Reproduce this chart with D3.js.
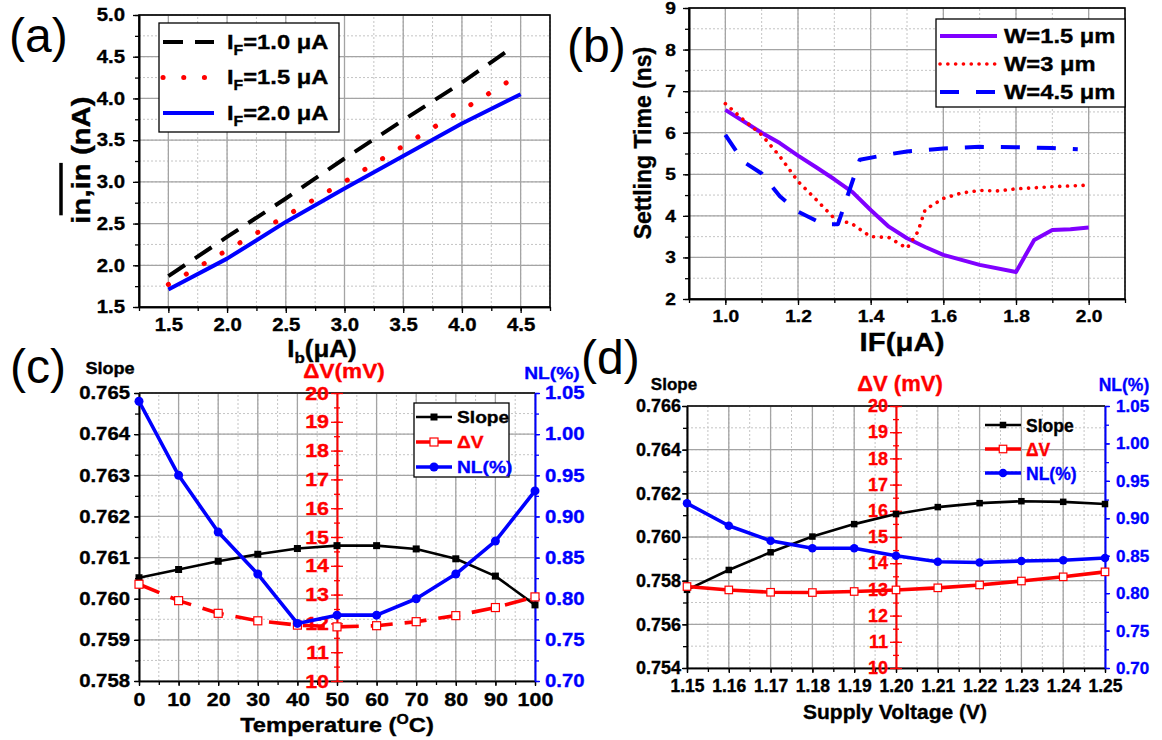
<!DOCTYPE html>
<html>
<head>
<meta charset="utf-8">
<script src="https://cdn.jsdelivr.net/npm/d3@7"></script>
<style>
body { margin: 0; background: #fff; }
.gmin { stroke: #c4c4c4; stroke-width: 1; stroke-dasharray: 2 2; }
.gmaj { stroke: #a4a4a4; stroke-width: 1.3; }
</style>
</head>
<body>
<script>
const FONT = '"Liberation Sans", Arial, Helvetica, sans-serif';
const STRETCH = 1.13; // panels a-c use lettering wider than plain Arial Bold

// (a) noise current vs Ib
const aIb = [1.5, 2.0, 2.5, 3.0, 3.5, 4.0, 4.5];
const aIbEnd = [1.5, 2.0, 2.5, 3.0, 3.5, 4.0, 4.45];
const aIF10 = [1.87, 2.34, 2.80, 3.28, 3.74, 4.19, 4.63];
const aIF15 = [1.77, 2.18, 2.59, 3.00, 3.43, 3.86, 4.25];
const aIF20 = [1.71, 2.08, 2.52, 2.92, 3.31, 3.70, 4.05];
const aXTicks = [1.5, 2.0, 2.5, 3.0, 3.5, 4.0, 4.5];
const aYTicks = [1.5, 2.0, 2.5, 3.0, 3.5, 4.0, 4.5, 5.0];

// (b) settling time vs IF
const bIF15 = [1.0, 1.1, 1.15, 1.2, 1.25, 1.3, 1.35, 1.4, 1.45, 1.5, 1.55, 1.6, 1.7, 1.8, 1.85, 1.9, 1.95, 2.0];
const bW15 = [6.55, 6.0, 5.75, 5.45, 5.17, 4.88, 4.57, 4.14, 3.74, 3.46, 3.25, 3.06, 2.82, 2.65, 3.42, 3.66, 3.68, 3.72];
const bIF3 = [1.0, 1.05, 1.1, 1.15, 1.2, 1.25, 1.3, 1.35, 1.4, 1.45, 1.5, 1.53, 1.55, 1.6, 1.65, 1.7, 1.75, 1.8, 1.9, 2.0];
const bW3 = [6.7, 6.31, 5.95, 5.43, 4.83, 4.39, 3.94, 3.8, 3.5, 3.48, 3.22, 3.62, 4.15, 4.42, 4.55, 4.61, 4.6, 4.65, 4.7, 4.74];
const bIF45 = [1.0, 1.05, 1.1, 1.15, 1.2, 1.27, 1.31, 1.37, 1.45, 1.5, 1.6, 1.7, 1.8, 1.9, 1.97];
const bW45 = [5.95, 5.3, 5.02, 4.47, 4.1, 3.8, 3.8, 5.35, 5.48, 5.55, 5.62, 5.66, 5.65, 5.63, 5.6];
const bXTicks = [1.0, 1.2, 1.4, 1.6, 1.8, 2.0];
const bYTicks = [2, 3, 4, 5, 6, 7, 8, 9];

// (c) temperature sweep
const cTemp = [0, 10, 20, 30, 40, 50, 60, 70, 80, 90, 100];
const cSlope = [0.76051, 0.76071, 0.76091, 0.76108, 0.76122, 0.76129, 0.76129, 0.76121, 0.76097, 0.76055, 0.75985];
const cDV = [13.36, 12.79, 12.35, 12.09, 11.94, 11.88, 11.92, 12.06, 12.27, 12.55, 12.92];
const cNL = [1.040, 0.950, 0.881, 0.830, 0.770, 0.780, 0.780, 0.800, 0.830, 0.870, 0.931];
const cXTicks = [0, 10, 20, 30, 40, 50, 60, 70, 80, 90, 100];
const cSlopeTicks = [0.758, 0.759, 0.760, 0.761, 0.762, 0.763, 0.764, 0.765];

// (d) supply sweep
const dVdd = [1.15, 1.16, 1.17, 1.18, 1.19, 1.20, 1.21, 1.22, 1.23, 1.24, 1.25];
const dSlope = [0.75758, 0.75849, 0.75930, 0.76002, 0.76059, 0.76105, 0.76137, 0.76155, 0.76164, 0.76161, 0.76151];
const dDV = [13.11, 12.98, 12.89, 12.88, 12.92, 12.98, 13.06, 13.17, 13.32, 13.48, 13.67];
const dNL = [0.920, 0.890, 0.870, 0.860, 0.860, 0.850, 0.842, 0.841, 0.843, 0.844, 0.847];
const dXTicks = [1.15, 1.16, 1.17, 1.18, 1.19, 1.20, 1.21, 1.22, 1.23, 1.24, 1.25];
const dSlopeTicks = [0.754, 0.756, 0.758, 0.760, 0.762, 0.764, 0.766];

const dvTicks = [10, 11, 12, 13, 14, 15, 16, 17, 18, 19, 20];
const nlTicks = [0.70, 0.75, 0.80, 0.85, 0.90, 0.95, 1.00, 1.05];

const steps = (a, b, s) => d3.range(Math.round((b - a) / s) + 1).map(i => +(a + i * s).toFixed(6));

const svg = d3.select("body").append("svg")
  .attr("width", 1162).attr("height", 740)
  .style("font-family", FONT);

function grid(g, x, y, xMaj, xMin, yMaj, yMin) {
  const [x0, x1] = x.range(), [y0, y1] = y.range();
  g.append("g").selectAll("line").data(xMin).join("line").attr("class", "gmin")
    .attr("x1", d => x(d)).attr("x2", d => x(d)).attr("y1", y0).attr("y2", y1);
  g.append("g").selectAll("line").data(yMin).join("line").attr("class", "gmin")
    .attr("y1", d => y(d)).attr("y2", d => y(d)).attr("x1", x0).attr("x2", x1);
  g.append("g").selectAll("line").data(xMaj).join("line").attr("class", "gmaj")
    .attr("x1", d => x(d)).attr("x2", d => x(d)).attr("y1", y0).attr("y2", y1);
  g.append("g").selectAll("line").data(yMaj).join("line").attr("class", "gmaj")
    .attr("y1", d => y(d)).attr("y2", d => y(d)).attr("x1", x0).attr("x2", x1);
}

function axis(g, gen, scale, major, minor, fmt, o) {
  const color = o.color || "#000";
  const m = g.append("g").attr("transform", `translate(${o.tx || 0},${o.ty || 0})`)
    .call(gen(scale).tickValues(minor).tickSize(o.mlen || 4).tickSizeOuter(0).tickFormat(""));
  const a = g.append("g").attr("transform", `translate(${o.tx || 0},${o.ty || 0})`)
    .call(gen(scale).tickValues(major).tickSize(o.len || 6).tickSizeOuter(0)
      .tickPadding(o.pad == null ? 4 : o.pad).tickFormat(fmt));
  [m, a].forEach(s => {
    s.select(".domain").attr("stroke", color).attr("stroke-width", 1.6);
    s.selectAll(".tick line").attr("stroke", color).attr("stroke-width", 1.3);
  });
  a.attr("font-family", FONT).attr("font-size", o.fs || 18).attr("font-weight", "bold")
    .selectAll("text").attr("fill", color);
  if (o.cross) {
    m.selectAll(".tick line").attr("x1", o.mlen || 4);
    a.selectAll(".tick line").attr("x1", o.len || 6);
  }
  return a;
}

function text(g, x, y, str, fs, o = {}) {
  return g.append("text").attr("x", x).attr("y", y).attr("font-size", fs)
    .attr("font-weight", o.weight || "bold").attr("fill", o.fill || "#000")
    .attr("text-anchor", o.anchor || "start").text(str);
}

function path(g, xs, ys, x, y, st) {
  return g.append("path").datum(xs.map((d, i) => [d, ys[i]]))
    .attr("fill", "none").attr("stroke", st.color).attr("stroke-width", st.w)
    .attr("stroke-dasharray", st.dash || null).attr("stroke-linecap", st.cap || "butt")
    .attr("stroke-linejoin", "round")
    .attr("d", d3.line().x(d => x(d[0])).y(d => y(d[1])));
}

function markers(g, xs, ys, x, y, kind, color, size) {
  const pts = xs.map((d, i) => [x(d), y(ys[i])]);
  if (kind === "circle") {
    g.append("g").selectAll("circle").data(pts).join("circle")
      .attr("cx", d => d[0]).attr("cy", d => d[1]).attr("r", size / 2).attr("fill", color);
  } else {
    g.append("g").selectAll("rect").data(pts).join("rect")
      .attr("x", d => d[0] - size / 2).attr("y", d => d[1] - size / 2)
      .attr("width", size).attr("height", size)
      .attr("fill", kind === "open" ? "#fff" : color)
      .attr("stroke", color).attr("stroke-width", kind === "open" ? 1.2 : 0);
  }
}

function frame(g, x, y) {
  const [x0, x1] = x.range(), [y0, y1] = y.range();
  g.append("rect").attr("x", x0).attr("y", y1).attr("width", x1 - x0).attr("height", y0 - y1)
    .attr("fill", "none").attr("stroke", "#000").attr("stroke-width", 1.6);
}

function panelLabel(x, y, s) {
  text(svg, x, y, s, 48, { weight: "normal" }).attr("class", "plabel");
}

// ================= (a) =================
{
  const g = svg.append("g").attr("class", "wide");
  const x = d3.scaleLinear().domain([1.25, 4.75]).range([139, 550]);
  const y = d3.scaleLinear().domain([1.5, 5.0]).range([307, 15]);
  grid(g, x, y, aXTicks, steps(1.25, 4.75, 0.25), aYTicks, steps(1.5, 5.0, 0.25));
  frame(g, x, y);
  axis(g, d3.axisBottom, x, aXTicks, steps(1.25, 4.75, 0.25), d3.format(".1f"), { ty: 307, pad: 5, fs: 18 });
  axis(g, d3.axisLeft, y, aYTicks, steps(1.5, 5.0, 0.25), d3.format(".1f"), { tx: 139, pad: 8, fs: 18 });

  const sA = [
    { xs: aIbEnd, ys: aIF10, color: "#000", w: 4, dash: "20 12", lab: "1.0" },
    { xs: aIbEnd, ys: aIF15, color: "#ff0000", w: 5, dash: "0.1 20.6", cap: "round", lab: "1.5" },
    { xs: aIb, ys: aIF20, color: "#0000ff", w: 4, lab: "2.0" }
  ];
  sA.forEach(s => path(g, s.xs, s.ys, x, y, s));

  const lg = g.append("g");
  lg.append("rect").attr("x", 159).attr("y", 23).attr("width", 180).attr("height", 109)
    .attr("fill", "#fff").attr("stroke", "#000").attr("stroke-width", 1.3);
  sA.forEach((s, i) => {
    const cy = 42 + i * 35.5;
    lg.append("line").attr("x1", 163).attr("x2", 214).attr("y1", cy).attr("y2", cy)
      .attr("stroke", s.color).attr("stroke-width", s.w)
      .attr("stroke-dasharray", s.dash || null).attr("stroke-linecap", s.cap || "butt");
    const t = text(lg, 227, cy + 7, "I", 21);
    t.append("tspan").attr("font-size", 14).attr("dy", 6).text("F");
    t.append("tspan").attr("dy", -6).text("=" + s.lab + " \u03bcA");
  });

  const xt = text(g, 322, 357, "I", 23, { anchor: "middle" });
  xt.append("tspan").attr("font-size", 15).attr("dy", 6).text("b");
  xt.append("tspan").attr("dy", -6).text("(\u03bcA)");

  const yt = g.append("g").attr("transform", "translate(90,160) rotate(-90)");
  const tt = yt.append("text").attr("text-anchor", "middle").attr("font-size", 26)
    .attr("font-weight", "bold").text("in,in (nA)");
  const node = tt.node();
  const total = node.getComputedTextLength();
  const sub = node.getSubStringLength(0, 5);
  yt.append("line").attr("x1", -total / 2 + 1).attr("x2", -total / 2 + sub)
    .attr("y1", -29).attr("y2", -29).attr("stroke", "#000").attr("stroke-width", 3.5);

  panelLabel(9, 52, "(a)");
}

// ================= (b) =================
{
  const g = svg.append("g").attr("class", "wide");
  const x = d3.scaleLinear().domain([0.9, 2.1]).range([689, 1125]);
  const y = d3.scaleLinear().domain([2, 9]).range([299, 8]);
  grid(g, x, y, bXTicks, steps(0.9, 2.1, 0.1), bYTicks, steps(2, 9, 0.5));
  frame(g, x, y);
  axis(g, d3.axisBottom, x, bXTicks, steps(0.9, 2.1, 0.1), d3.format(".1f"), { ty: 299, pad: 5, fs: 17 });
  axis(g, d3.axisLeft, y, bYTicks, steps(2, 9, 0.5), d3.format("d"), { tx: 689, pad: 7, fs: 17 });

  const sB = [
    { xs: bIF15, ys: bW15, color: "#8000ff", w: 4, lab: "W=1.5 \u03bcm" },
    { xs: bIF3, ys: bW3, color: "#ff0000", w: 3.6, dash: "0.1 7.7", cap: "round", lab: "W=3 \u03bcm" },
    { xs: bIF45, ys: bW45, color: "#0000ff", w: 4, dash: "19 17", lab: "W=4.5 \u03bcm" }
  ];
  sB.forEach(s => path(g, s.xs, s.ys, x, y, s));

  const lg = g.append("g");
  lg.append("rect").attr("x", 936).attr("y", 19).attr("width", 189).attr("height", 88)
    .attr("fill", "#fff").attr("stroke", "#000").attr("stroke-width", 1.3);
  sB.forEach((s, i) => {
    const cy = 36 + i * 28;
    lg.append("line").attr("x1", 940).attr("x2", 997).attr("y1", cy).attr("y2", cy)
      .attr("stroke", s.color).attr("stroke-width", s.w)
      .attr("stroke-dasharray", s.dash || null).attr("stroke-linecap", s.cap || "butt");
    text(lg, 1004, cy + 7.5, s.lab, 21);
  });

  text(g, 902, 351, "IF(\u03bcA)", 26, { anchor: "middle" });
  g.append("text").attr("transform", "translate(651,143) rotate(-90)")
    .attr("text-anchor", "middle").attr("font-size", 23).attr("font-weight", "bold")
    .text("Settling Time (ns)");

  panelLabel(567, 62, "(b)");
}

// ============ (c) and (d) share a three-axis layout ============
function triple(p) {
  const g = svg.append("g").attr("class", p.cls);
  const x = d3.scaleLinear().domain(p.xDom).range([p.l, p.r]);
  const ySl = d3.scaleLinear().domain(p.slDom).range([p.b, p.t]);
  const yDV = d3.scaleLinear().domain([10, 20]).range([p.b, p.t]);
  const yNL = d3.scaleLinear().domain([0.70, 1.05]).range([p.b, p.t]);

  grid(g, x, ySl, p.xTicks, p.xMinor, p.slTicks, p.slMinor);
  g.append("line").attr("x1", p.l).attr("x2", p.r).attr("y1", p.t).attr("y2", p.t)
    .attr("stroke", "#000").attr("stroke-width", 1.6);

  axis(g, d3.axisBottom, x, p.xTicks, p.xMinor, p.xFmt, { ty: p.b, pad: p.xPad, fs: p.xFs, len: 5, mlen: 4 });
  axis(g, d3.axisLeft, ySl, p.slTicks, p.slMinor, d3.format(".3f"), { tx: p.l, pad: p.slPad, fs: p.slFs, len: 5, mlen: 4 });
  axis(g, d3.axisRight, yNL, nlTicks, steps(0.70, 1.05, 0.025), d3.format(".2f"),
    { tx: p.r, pad: p.nlPad, fs: p.nlFs, color: "#0000ff", len: 5, mlen: 4 });
  axis(g, d3.axisLeft, yDV, dvTicks, steps(10, 20, 0.5), d3.format("d"),
    { tx: x(p.dvAt), pad: 2, fs: p.dvFs, color: "#ff0000", len: 6, mlen: 3, cross: true });

  const xs = p.xVals;
  path(g, xs, p.slope, x, ySl, { color: "#000", w: 2.6 });
  markers(g, xs, p.slope, x, ySl, "square", "#000", p.ms);
  path(g, xs, p.dv, x, yDV, { color: "#ff0000", w: 3.6, dash: p.dvDash });
  markers(g, xs, p.dv, x, yDV, "open", "#ff0000", p.ms + 1);
  path(g, xs, p.nl, x, yNL, { color: "#0000ff", w: 3.6 });
  markers(g, xs, p.nl, x, yNL, "circle", "#0000ff", p.ms + 2);

  const lg = g.append("g");
  if (p.box) {
    lg.append("rect").attr("x", p.box[0]).attr("y", p.box[1]).attr("width", p.box[2]).attr("height", p.box[3])
      .attr("fill", "#fff").attr("stroke", "#000").attr("stroke-width", 1.3);
  }
  const ents = [
    { lab: "Slope", color: "#000", kind: "square", w: 2.6 },
    { lab: "\u0394V", color: "#ff0000", kind: "open", w: 3.6 },
    { lab: "NL(%)", color: "#0000ff", kind: "circle", w: 3.6 }
  ];
  ents.forEach((e, i) => {
    const cy = p.lgY + i * p.lgDy;
    lg.append("line").attr("x1", p.lgX).attr("x2", p.lgX + 36).attr("y1", cy).attr("y2", cy)
      .attr("stroke", e.color).attr("stroke-width", e.w);
    markers(lg, [0], [0], () => p.lgX + 18, () => cy, e.kind, e.color, e.kind === "square" ? p.ms : e.kind === "open" ? p.ms + 1 : p.ms + 2);
    text(lg, p.lgX + 41, cy + 6.5, e.lab, p.lgFs, { fill: e.color });
  });

  text(g, p.slLab[0], p.slLab[1], "Slope", p.slTitleFs, { anchor: "middle" });
  text(g, p.dvLab[0], p.dvLab[1], p.dvTitle, p.dvTitleFs, { anchor: "middle", fill: "#ff0000" });
  text(g, p.nlLab[0], p.nlLab[1], "NL(%)", p.nlTitleFs, { anchor: "middle", fill: "#0000ff" });
  return g;
}

{
  const g = triple({
    cls: "wide",
    l: 139, r: 535, t: 393, b: 681,
    xDom: [0, 100], xTicks: cXTicks, xMinor: steps(0, 100, 5), xFmt: d3.format("d"),
    slDom: [0.758, 0.765], slTicks: cSlopeTicks, slMinor: steps(0.758, 0.765, 0.0005),
    xVals: cTemp, slope: cSlope, dv: cDV, nl: cNL, dvAt: 50,
    xPad: 7, xFs: 19, slPad: 4, slFs: 18, nlPad: 5, nlFs: 18, dvFs: 19,
    dvDash: "22 12", ms: 7,
    box: [414, 403, 95, 74], lgX: 416, lgY: 417, lgDy: 25, lgFs: 17,
    slLab: [110, 374], slTitleFs: 16, dvLab: [344, 378], dvTitle: "\u0394V(mV)", dvTitleFs: 20,
    nlLab: [552, 379], nlTitleFs: 17
  });
  const t = text(g, 337, 732, "Temperature (", 21, { anchor: "middle" });
  t.append("tspan").attr("font-size", 14).attr("dy", -8).text("O");
  t.append("tspan").attr("dy", 8).text("C)");
  panelLabel(10, 383, "(c)");
}

{
  const g = triple({
    cls: "plain",
    l: 687, r: 1105, t: 406, b: 668,
    xDom: [1.15, 1.25], xTicks: dXTicks, xMinor: steps(1.15, 1.25, 0.005), xFmt: d3.format(".2f"),
    slDom: [0.754, 0.766], slTicks: dSlopeTicks, slMinor: steps(0.754, 0.766, 0.001),
    xVals: dVdd, slope: dSlope, dv: dDV, nl: dNL, dvAt: 1.20,
    xPad: 7, xFs: 17.5, slPad: 1, slFs: 18, nlPad: 6, nlFs: 17, dvFs: 18,
    dvDash: null, ms: 6.5,
    box: null, lgX: 985, lgY: 425, lgDy: 24, lgFs: 17.5,
    slLab: [674, 390], slTitleFs: 17, dvLab: [900, 391], dvTitle: "\u0394V (mV)", dvTitleFs: 22,
    nlLab: [1124, 391], nlTitleFs: 17.5
  });
  text(g, 895, 719, "Supply Voltage (V)", 21, { anchor: "middle" });
  panelLabel(581, 374, "(d)");
}

// heavier strokes on all bold lettering; panels a-c are also widened horizontally
svg.selectAll("text").each(function () {
  const el = d3.select(this);
  const fill = getComputedStyle(this).fill;
  if (!el.classed("plabel")) el.attr("stroke", fill).attr("stroke-width", 0.35);
  if (el.attr("transform") || !this.closest(".wide")) return;
  const x0 = +el.attr("x") || 0;
  el.attr("transform", `matrix(${STRETCH},0,0,1,${x0 * (1 - STRETCH)},0)`);
});
</script>
</body>
</html>
